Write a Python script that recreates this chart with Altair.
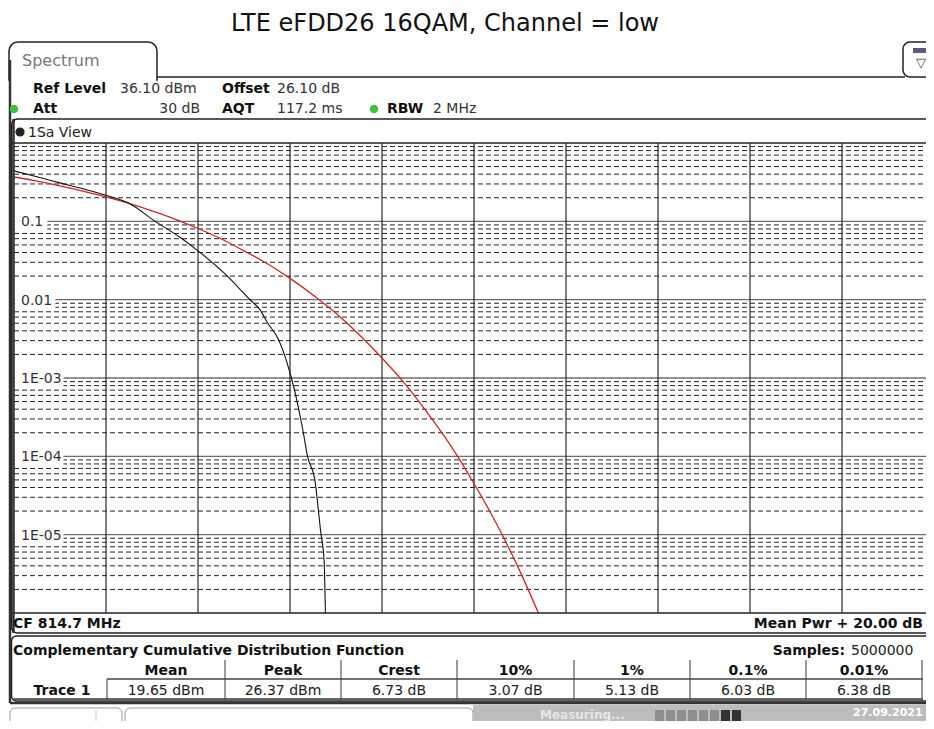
import altair as alt
import pandas as pd

# ---------------- data ----------------
title_text = "LTE eFDD26 16QAM, Channel = low"

# measured CCDF trace (black): power above mean [dB] -> probability
black_db = [0.0, 0.5, 1.0, 1.5, 2.0, 2.5, 3.07, 3.6, 4.0, 4.6, 5.13, 5.35, 5.5,
            5.75, 5.89, 5.96, 6.03, 6.13, 6.29, 6.38, 6.54, 6.67, 6.74, 6.77]
black_p = [0.44, 0.37, 0.31, 0.26, 0.215, 0.17, 0.1, 0.063, 0.042, 0.021, 0.01,
           0.0074, 0.0052, 0.0031, 0.0019, 0.0014, 0.001, 5.8e-4, 2.0e-4, 1.0e-4,
           5.0e-5, 1.05e-5, 4.8e-6, 1.0e-6]

# reference (Gaussian) CCDF trace (red)
red_db = [0.0, 0.5, 1.0, 1.5, 2.0, 2.5, 3.0, 3.5, 4.0, 4.5, 5.0, 5.5, 6.0, 6.5,
          7.0, 7.5, 8.0, 8.5, 9.0, 9.5, 10.0, 10.5, 11.0, 11.4]
red_p = [0.368, 0.326, 0.284, 0.243, 0.205, 0.169, 0.136, 0.107, 0.081, 0.060,
         0.042, 0.029, 0.0187, 0.0115, 0.0067, 0.0036, 0.0018, 8.4e-4, 3.5e-4,
         1.35e-4, 4.5e-5, 1.34e-5, 3.4e-6, 1.0e-6]

x_grid_db = [2, 4, 6, 8, 10, 12, 14, 16, 18]
y_major = [1e-1, 1e-2, 1e-3, 1e-4, 1e-5]
y_major_labels = ["0.1", "0.01", "1E-03", "1E-04", "1E-05"]
y_minor = [m * 10.0 ** k for k in range(-6, 0) for m in range(2, 10)]

table_head = ["Mean", "Peak", "Crest", "10%", "1%", "0.1%", "0.01%"]
table_vals = ["19.65 dBm", "26.37 dBm", "6.73 dB", "3.07 dB", "5.13 dB", "6.03 dB", "6.38 dB"]
trace_name = "Trace 1"

# ---------------- layout ----------------
F = "DejaVu Sans"
OX, OY = 14, 143          # page position of plot origin
W, H = 912, 470
X_MAX = W / 46.0          # 92 px per 2 dB division
xs = alt.Scale(domain=[0, X_MAX], nice=False, zero=False)
ys = alt.Scale(type="log", domain=[1e-6, 1], nice=False)
one = pd.DataFrame({"k": [0]})


def T(s, X, Y, size=14, bold=False, color="#111", align="left"):
    return alt.Chart(one).mark_text(
        text=s, align=align, baseline="alphabetic", fontSize=size,
        fontWeight="bold" if bold else "normal", color=color, font=F
    ).encode(x=alt.value(X - OX), y=alt.value(Y - OY))


def HR(X1, X2, Y, color="#222", w=1.0, dash=None):
    kw = dict(color=color, strokeWidth=w)
    if dash:
        kw["strokeDash"] = dash
    return alt.Chart(one).mark_rule(**kw).encode(
        x=alt.value(X1 - OX), x2=alt.value(X2 - OX), y=alt.value(Y - OY))


def VR(X, Y1, Y2, color="#222", w=1.0):
    return alt.Chart(one).mark_rule(color=color, strokeWidth=w).encode(
        x=alt.value(X - OX), y=alt.value(Y1 - OY), y2=alt.value(Y2 - OY))


def R(X1, Y1, X2, Y2, fill="white", stroke=None, w=1.0, radius=0, top_only=False, fo=1.0):
    kw = dict(fill=fill, fillOpacity=fo)
    if stroke:
        kw.update(stroke=stroke, strokeWidth=w)
    if radius:
        if top_only:
            kw.update(cornerRadiusTopLeft=radius, cornerRadiusTopRight=radius)
        else:
            kw.update(cornerRadius=radius)
    return alt.Chart(one).mark_rect(**kw).encode(
        x=alt.value(X1 - OX), x2=alt.value(X2 - OX),
        y=alt.value(Y1 - OY), y2=alt.value(Y2 - OY))


def DOT(X, Y, color, size=55):
    return alt.Chart(one).mark_circle(color=color, size=size, opacity=1).encode(
        x=alt.value(X - OX), y=alt.value(Y - OY))


layers = []

# ---- grid ----
layers.append(alt.Chart(pd.DataFrame({"p": y_minor})).mark_rule(
    color="#262626", strokeWidth=1, strokeDash=[5, 3]).encode(
    y=alt.Y("p:Q", scale=ys, axis=None), x=alt.value(0), x2=alt.value(W)))
layers.append(alt.Chart(pd.DataFrame({"p": y_major})).mark_rule(
    color="#6e6e6e", strokeWidth=1.3).encode(
    y=alt.Y("p:Q", scale=ys, axis=None), x=alt.value(0), x2=alt.value(W)))
layers.append(alt.Chart(pd.DataFrame({"db": x_grid_db})).mark_rule(
    color="#2a2a2a", strokeWidth=1.2).encode(
    x=alt.X("db:Q", scale=xs, axis=None), y=alt.value(0), y2=alt.value(H)))

# ---- y labels with white masks ----
for v, lab in zip(y_major, y_major_labels):
    end_x = 21 + 8.1 * len(lab) + 2
    layers.append(alt.Chart(pd.DataFrame({"p": [v]})).transform_calculate(
        top="datum.p * 1.2", bot="datum.p / 1.3").mark_rect(color="white").encode(
        y=alt.Y("top:Q", scale=ys, axis=None), y2="bot:Q",
        x=alt.value(1), x2=alt.value(end_x - OX)))
layers.append(alt.Chart(pd.DataFrame({"p": y_major, "lab": y_major_labels})).mark_text(
    align="left", baseline="middle", fontSize=14, font=F, color="#333", dy=1).encode(
    y=alt.Y("p:Q", scale=ys, axis=None), x=alt.value(21 - OX), text="lab:N"))

# ---- traces ----
layers.append(alt.Chart(pd.DataFrame({"db": red_db, "p": red_p})).mark_line(
    color="#d22424", strokeWidth=1.3, clip=True, interpolate="monotone").encode(
    x=alt.X("db:Q", scale=xs, axis=None), y=alt.Y("p:Q", scale=ys, axis=None)))
layers.append(alt.Chart(pd.DataFrame({"db": black_db, "p": black_p})).mark_line(
    color="#111111", strokeWidth=1.1, clip=True, interpolate="monotone").encode(
    x=alt.X("db:Q", scale=xs, axis=None), y=alt.Y("p:Q", scale=ys, axis=None)))

# ---- plot border ----
layers.append(HR(12, 940, 143, "#222", 1.3))
layers.append(HR(12, 940, 613, "#222", 1.3))
layers.append(VR(13.5, 119, 633, "#333", 2.5))

# ---- title ----
layers.append(T(title_text, 445, 31, size=24, color="#111", align="center"))

# ---- window / tab ----
layers.append(R(9, 42, 157, 80, fill="white", stroke="#222", w=1.5, radius=9, top_only=True))
layers.append(HR(157, 905, 77, "#222", 1.5))
layers.append(R(10.5, 76, 156, 82, fill="white"))
layers.append(VR(10, 60, 703, "#333", 2.5))
layers.append(T("Spectrum", 22, 66, size=16, color="#777"))
layers.append(R(903, 42, 950, 77, fill="white", stroke="#222", w=1.5, radius=7))
layers.append(R(913, 48, 930, 53, fill="#5a5a7a"))
layers.append(T("\u25bd", 921, 67, size=13, color="#444", align="center"))

# ---- header info ----
layers.append(T("Ref Level", 33, 93, bold=True))
layers.append(T("36.10 dBm", 120, 93, color="#333"))
layers.append(T("Offset", 222, 93, bold=True))
layers.append(T("26.10 dB", 277, 93, color="#333"))
layers.append(T("Att", 33, 113, bold=True))
layers.append(T("30 dB", 200, 113, color="#333", align="right"))
layers.append(T("AQT", 222, 113, bold=True))
layers.append(T("117.2 ms", 277, 113, color="#333"))
layers.append(T("RBW", 387, 113, bold=True))
layers.append(T("2 MHz", 433, 113, color="#333"))
layers.append(DOT(14, 109, "#3fbf3f", size=70))
layers.append(DOT(374, 109, "#3fbf3f", size=70))

# ---- 1Sa View pane ----
layers.append(R(11.5, 119, 950, 633, fill="white", stroke="#222", w=1.5, radius=6, fo=0))
layers.append(DOT(20, 132, "#222", size=85))
layers.append(T("1Sa View", 28, 137, size=14, color="#222"))
layers.append(T("CF 814.7 MHz", 13, 628, bold=True))
layers.append(T("Mean Pwr + 20.00 dB", 923, 628, bold=True, align="right"))

# ---- CCDF result table ----
layers.append(R(11.5, 636, 950, 701, fill="white", stroke="#222", w=1.5, radius=5, fo=0))
layers.append(T("Complementary Cumulative Distribution Function", 13, 655, bold=True))
layers.append(T("Samples:", 845, 655, bold=True, align="right"))
layers.append(T("5000000", 851, 655, color="#222"))
seps = [107, 225, 341, 457, 574, 690, 806, 922]
for xsep in seps[1:]:
    layers.append(VR(xsep, 660, 699, "#666", 1.3))
layers.append(VR(107, 679, 699, "#666", 1.3))
layers.append(HR(107, 923, 679, "#444", 1.3))
layers.append(HR(14, 923, 699, "#333", 1.5))
for i, (hd, val) in enumerate(zip(table_head, table_vals)):
    cx = (seps[i] + seps[i + 1]) / 2
    layers.append(T(hd, cx, 675, bold=True, align="center"))
    layers.append(T(val, cx, 695, color="#222", align="center"))
layers.append(T(trace_name, 62, 695, bold=True, align="center"))
layers.append(HR(10, 940, 703, "#333", 2.5))

# ---- status bar ----
layers.append(R(10, 708, 122, 740, fill="white", stroke="#999", w=1, radius=5))
layers.append(VR(96, 710, 740, "#ccc", 1))
layers.append(R(125, 708, 473, 740, fill="white", stroke="#999", w=1, radius=5))
layers.append(R(473, 705, 950, 740, fill="#bdbdbd"))
for i in range(8):
    layers.append(R(655 + i * 11, 710, 664 + i * 11, 721,
                    fill="#333" if i >= 6 else "#8e8e8e"))
layers.append(T("Measuring...", 540, 719, size=12, bold=True, color="#e6e6e6"))
layers.append(T("27.09.2021", 853, 716, size=11, bold=True, color="white"))

chart = alt.layer(*layers).properties(
    width=W, height=H,
    padding={"left": OX - 8, "top": OY - 8, "right": 0, "bottom": 108},
    autosize=alt.AutoSizeParams(type="none"),
).configure_view(strokeWidth=0)

chart.save("out.html", embed_options={"renderer": "svg", "actions": False})
